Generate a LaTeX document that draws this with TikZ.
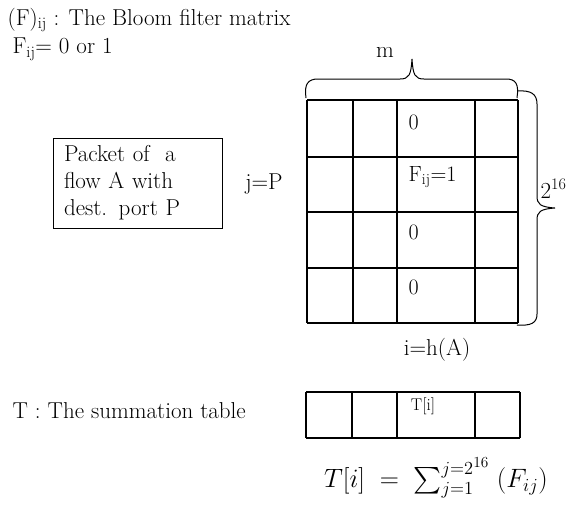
\documentclass[tikz,border=0pt]{standalone}
\usepackage{amsmath}
\usepackage{fontspec}
\usepackage{tikz}

\tikzset{
    txt/.style={inner sep=0pt, font=\fontsize{23}{27}\selectfont},
    celltxt/.style={inner sep=0pt, anchor=west, font=\fontsize{22}{24}\selectfont}
}

\begin{document}
\begin{tikzpicture}[x=1pt, y=-1pt, line width=1.3pt]
                    \useasboundingbox (0,0) rectangle (575,504);
                    % Heading
                    \node[txt, anchor=west] (title) at (7,20) {(F)\textsubscript{ij} : The Bloom filter matrix};
                    \node[txt, anchor=west] (fdef) at (12,49) {F\textsubscript{ij}= 0 or 1};
                    % Packet
                    \node[txt, draw, line width=0.8pt, align=left, inner xsep=11pt, inner ysep=3pt, minimum width=169pt, minimum height=90pt, text width=147pt] (packet) at (137.5,183) {Packet of\ \ a\\flow A with\\dest. port P};
                    \node[txt] (jp) at (264,184) {j=P};
                    % Matrix
                    \foreach \x in {307,353,397,475,518}
                        \draw (\x,100) -- (\x,323);
                    \foreach \y in {100,157,212,268,323}
                        \draw (307,\y) -- (518,\y);
                    \node[celltxt] (c1) at (408,122) {0};
                    \node[celltxt] (c2) at (408,177) {F\textsubscript{ij}=1};
                    \node[celltxt] (c3) at (408,232) {0};
                    \node[celltxt] (c4) at (408,287) {0};
                    % Braces
                    \draw[line width=1pt] (306,98) .. controls (304,84) and (308,79) .. (318,79) -- (400,79) .. controls (409,79) and (411,75) .. (412,59)
                        .. controls (413,75) and (415,79) .. (424,79) -- (506,79) .. controls (516,79) and (519,84) .. (517,98);
                    \draw[line width=1pt] (517,91) .. controls (531,90) and (537,94) .. (537,104) -- (537,196) .. controls (537,204) and (540,207) .. (555,208)
                        .. controls (540,209) and (537,212) .. (537,220) -- (537,314) .. controls (537,323) and (531,326) .. (517,325);
                    \node[txt] (m) at (385,52) {m};
                    \node[txt, anchor=west] (rows) at (540,189) {2\textsuperscript{16}};
                    \node[txt] (ih) at (437,350) {i=h(A)};
                    % Summation table
                    \node[txt, anchor=west] (ttl) at (12,411) {T : The summation table};
                    \foreach \x in {306,352,397,475,520}
                        \draw (\x,392) -- (\x,438);
                    \foreach \y in {392,438}
                        \draw (306,\y) -- (520,\y);
                    \node[inner sep=0pt, font=\fontsize{17}{18}\selectfont] (ti) at (423,406) {T[i]};
                    \node[inner sep=0pt, font=\huge, scale=1.28] (sum) at (436,478) {$T[i] \;=\; \sum_{j=1}^{j=2^{16}}\;(F_{ij})$};
                \end{tikzpicture}
\end{document}
